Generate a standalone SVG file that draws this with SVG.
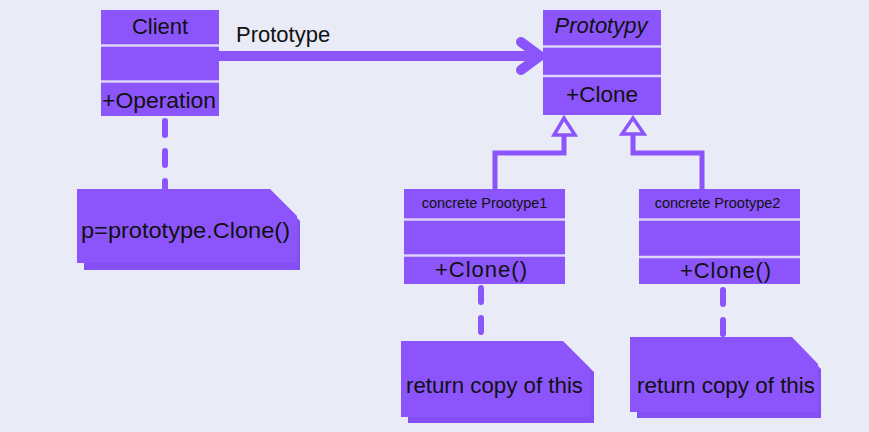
<svg xmlns="http://www.w3.org/2000/svg" width="869" height="432" viewBox="0 0 869 432">
<defs>
<style>
.box{fill:#8c55fb;}
.div{stroke:#ddd3fb;stroke-width:2.5;}
.t{font-family:"Liberation Sans",Arial,sans-serif;fill:#111;}
.note{fill:#8c55fb;}
.shadow{fill:#8450f3;}
.line{stroke:#8c55fb;fill:none;}
.dash{stroke:#8c55fb;stroke-width:6;stroke-linecap:round;stroke-dasharray:14 16;fill:none;}
.tri{fill:#e9ebf6;stroke:#8c55fb;stroke-width:3.5;stroke-linejoin:miter;}
</style>
</defs>
<rect width="869" height="432" fill="#e9ebf6"/>
<g id="connectors">
<line x1="219" y1="56" x2="538" y2="56" class="line" stroke-width="10"/>
<polyline points="521,42 540,56 521,70" class="line" stroke-width="10" stroke-linecap="round" stroke-linejoin="round"/>
<path d="M165,121 V188" class="dash"/>
<path d="M481,288 V340" class="dash" stroke-dasharray="18 12"/>
<path d="M723,290 V338" class="dash" stroke-dasharray="20 12"/>
<polyline points="495,189 495,153 564,153 564,136" class="line" stroke-width="5"/>
<polyline points="702,189 702,153 633,153 633,134" class="line" stroke-width="5"/>
<polygon points="564,118 554,135 575,135" class="tri"/>
<polygon points="633,118 622,134 644,134" class="tri"/>
</g>
<text class="t" x="236" y="42" font-size="22">Prototype</text>
<g id="client">
<rect class="box" x="101" y="10" width="118" height="106"/>
<line class="div" x1="101" y1="45.5" x2="219" y2="45.5"/>
<line class="div" x1="101" y1="81.5" x2="219" y2="81.5"/>
<text class="t" x="160" y="34" font-size="22" text-anchor="middle">Client</text>
<text class="t" x="102" y="108" font-size="22" textLength="114" lengthAdjust="spacingAndGlyphs">+Operation</text>
</g>
<g id="prototypy">
<rect class="box" x="543" y="10" width="118" height="105"/>
<line class="div" x1="543" y1="46.5" x2="661" y2="46.5"/>
<line class="div" x1="543" y1="76" x2="661" y2="76"/>
<text class="t" x="601" y="33" font-size="22" font-style="italic" text-anchor="middle">Prototypy</text>
<text class="t" x="602" y="102" font-size="22.5" text-anchor="middle">+Clone</text>
</g>
<g id="concrete1">
<rect class="box" x="404" y="189" width="161" height="95"/>
<line class="div" x1="404" y1="219.5" x2="565" y2="219.5"/>
<line class="div" x1="404" y1="255.5" x2="565" y2="255.5"/>
<text class="t" x="484.5" y="208" font-size="14.5" text-anchor="middle">concrete Prootype1</text>
<text class="t" x="435" y="277" font-size="22" textLength="92" lengthAdjust="spacing">+Clone()</text>
</g>
<g id="concrete2">
<rect class="box" x="639" y="189" width="161" height="95"/>
<line class="div" x1="639" y1="219.5" x2="800" y2="219.5"/>
<line class="div" x1="639" y1="257" x2="800" y2="257"/>
<text class="t" x="717.5" y="208" font-size="14.5" text-anchor="middle">concrete Prootype2</text>
<text class="t" x="680" y="278" font-size="22" textLength="91" lengthAdjust="spacing">+Clone()</text>
</g>
<g id="note1">
<polygon class="shadow" points="84,196 276,196 300,221 300,270 84,270"/>
<polygon class="note" points="77,189 270,189 297,216 297,263 77,263"/>
<text class="t" x="81" y="238" font-size="22" textLength="209" lengthAdjust="spacingAndGlyphs">p=prototype.Clone()</text>
</g>
<g id="note2">
<polygon class="shadow" points="408,348 568,348 594,372 594,423 408,423"/>
<polygon class="note" points="401,341 563,341 590,368 590,417 401,417"/>
<text class="t" x="406" y="393" font-size="22" textLength="177" lengthAdjust="spacingAndGlyphs">return copy of this</text>
</g>
<g id="note3">
<polygon class="shadow" points="637,344 797,344 821,369 821,418 637,418"/>
<polygon class="note" points="630,337 792,337 818,364 818,412 630,412"/>
<text class="t" x="637" y="393" font-size="22" textLength="178" lengthAdjust="spacingAndGlyphs">return copy of this</text>
</g>
</svg>
